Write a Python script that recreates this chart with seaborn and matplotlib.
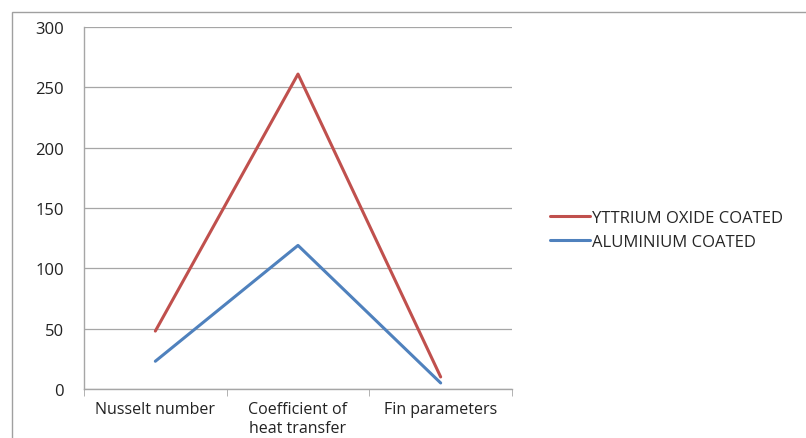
import pandas as pd
import matplotlib
matplotlib.use("Agg")
import matplotlib.pyplot as plt
import seaborn as sns
from matplotlib.patches import Rectangle

# values
categories = ["Nusselt number", "Coefficient of\nheat transfer", "Fin parameters"]
yttrium = [48, 261, 10]
aluminium = [23, 119, 5]
series_names = ["YTTRIUM OXIDE COATED", "ALUMINIUM COATED"]

df = pd.DataFrame({
    "Parameter": categories * 2,
    "Value": yttrium + aluminium,
    "Coating": [series_names[0]] * 3 + [series_names[1]] * 3,
})

sns.set_style("white")
plt.rcParams["font.family"] = ["Open Sans", "DejaVu Sans"]

fig = plt.figure(figsize=(8.06, 4.39), dpi=100)
ax = fig.add_axes([84 / 806, 49 / 439, 428 / 806, 362 / 439])

palette = {series_names[0]: "#C0504D", series_names[1]: "#4F81BD"}
sns.lineplot(data=df, x="Parameter", y="Value", hue="Coating", palette=palette,
             linewidth=2.2, sort=False, ax=ax)

ax.set_xlim(-0.5, 2.5)
ax.set_ylim(0, 300)
ax.set_yticks(range(0, 301, 50))
ax.yaxis.grid(True, color="#A6A6A6", linewidth=0.9)
ax.set_xlabel("")
ax.set_ylabel("")

for side in ["top", "right"]:
    ax.spines[side].set_visible(False)
for side in ["left", "bottom"]:
    ax.spines[side].set_color("#A6A6A6")
    ax.spines[side].set_linewidth(1.0)

ax.set_xticks([0, 1, 2])
ax.set_xticklabels(categories, linespacing=1.25)
ax.set_xticks([-0.5, 0.5, 1.5, 2.5], minor=True)
ax.tick_params(axis="x", which="major", length=0, pad=9, labelsize=11.5, colors="#222222")
ax.tick_params(axis="x", which="minor", length=5, color="#A6A6A6", direction="out", bottom=True)
ax.tick_params(axis="y", length=4.5, direction="out", pad=10, labelsize=12, colors="#222222")
ax.tick_params(axis="y", color="#A6A6A6")

handles, labels = ax.get_legend_handles_labels()
ax.get_legend().remove()
fig.legend(handles, labels, loc="center left", bbox_to_anchor=(535 / 806, 1 - 231 / 439),
           frameon=False, fontsize=12, handlelength=2.4, handletextpad=0.1,
           labelspacing=0.45)

# chart border
fig.patches.append(Rectangle((12 / 806, -0.05), 1.0, 1.05 - 13 / 439, transform=fig.transFigure,
                             fill=False, edgecolor="#A0A0A0", linewidth=1.0))

fig.savefig("out.png", dpi=100)
